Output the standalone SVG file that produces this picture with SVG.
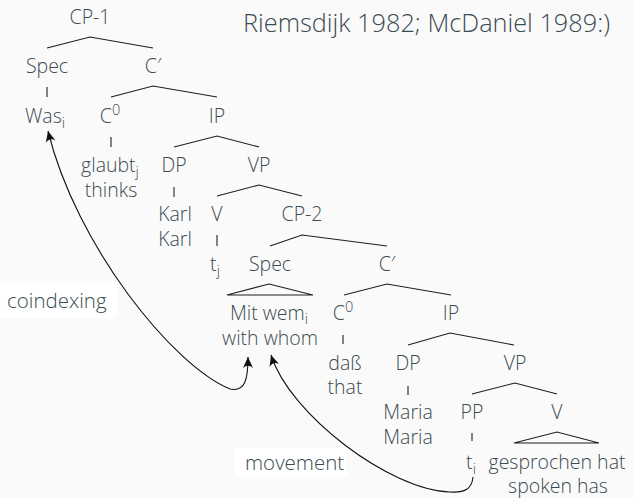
<svg xmlns="http://www.w3.org/2000/svg" width="633" height="498" viewBox="0 0 633 498">
  <style>
    text { font-family: "Open Sans", "Noto Sans", sans-serif; font-weight: 350; font-size: 19.5px; fill: #3a4b51; text-anchor: middle; }
    .hdr { font-size: 25.3px; text-anchor: start; }
    .lbl { text-anchor: start; font-size: 20.5px; }
    .sub { font-size: 14.5px; }
    .tree { fill: none; stroke: #1e1e1e; stroke-width: 1.1; }
    .arc { fill: none; stroke: #111; stroke-width: 1.1; }
    .box { fill: #ffffff; }
  </style>
  <defs>
    <marker id="stealth" viewBox="-12 -6 13 12" refX="0" refY="0" markerWidth="13" markerHeight="12" markerUnits="userSpaceOnUse" orient="auto-start-reverse">
      <path d="M0,0 L-11,-5 Q-6.5,0 -11,5 Z" fill="#111"/>
    </marker>
  </defs>

  <rect x="0" y="0" width="633" height="498" fill="#fafafa"/>

  <text class="hdr" x="243" y="32">Riemsdijk 1982; McDaniel 1989:)</text>

  <g id="label-coindexing">
    <rect class="box" x="0" y="283" width="117" height="35"/>
    <text class="lbl" x="7" y="308">coindexing</text>
  </g>
  <g id="label-movement">
    <rect class="box" x="235" y="448" width="112" height="29"/>
    <text class="lbl" x="245" y="470">movement</text>
  </g>

  <!-- tree branches -->
  <g id="connectors">
    <polyline class="tree" points="47,48 90,37 153,48"/>
    <line class="tree" x1="47" y1="87" x2="47" y2="97"/>
    <polyline class="tree" points="111,97 153,86 217,97"/>
    <line class="tree" x1="111" y1="137" x2="111" y2="147"/>
    <polyline class="tree" points="174,147 217,136 259,147"/>
    <line class="tree" x1="174" y1="187" x2="174" y2="197"/>
    <polyline class="tree" points="217,196 259,185 302,196"/>
    <line class="tree" x1="217" y1="235" x2="217" y2="246"/>
    <polyline class="tree" points="270,246 302,235 387,246"/>
    <polygon class="tree" points="227,295 269,284 313,295"/>
    <polyline class="tree" points="344,295 387,284 451,295"/>
    <line class="tree" x1="343" y1="335" x2="343" y2="344"/>
    <polyline class="tree" points="408,345 450,333 514,345"/>
    <line class="tree" x1="408" y1="386" x2="408" y2="395"/>
    <polyline class="tree" points="472,394 515,383 557,394"/>
    <line class="tree" x1="472" y1="433" x2="472" y2="441"/>
    <polygon class="tree" points="514,443 557,432 599,443"/>

    <!-- coindexing and movement arcs -->
    <path class="arc" d="M48,131 C76,245 172,365 230,389 C245,392 248,380 248,357" marker-start="url(#stealth)" marker-end="url(#stealth)"/>
    <path class="arc" d="M473,477 C472,488 466,493 450,492 C390,490 290,415 271,355" marker-end="url(#stealth)"/>
  </g>

  <g id="n-cp1"><text x="90" y="24">CP-1</text></g>
  <g id="n-spec1"><text x="47" y="73">Spec</text></g>
  <g id="n-cbar1"><text x="153" y="73">C′</text></g>
  <g id="n-was"><text x="45" y="123">Was<tspan class="sub" dy="5">i</tspan></text></g>
  <g id="n-c0a"><text x="110" y="123">C<tspan class="sub" dy="-8">0</tspan></text></g>
  <g id="n-ip1"><text x="217" y="123">IP</text></g>
  <g id="n-glaubt">
    <text x="110" y="172">glaubt<tspan class="sub" dy="5">j</tspan></text>
    <text x="111" y="197">thinks</text>
  </g>
  <g id="n-dp1"><text x="174" y="172">DP</text></g>
  <g id="n-vp1"><text x="259" y="172">VP</text></g>
  <g id="n-karl">
    <text x="175" y="221">Karl</text>
    <text x="175" y="246">Karl</text>
  </g>
  <g id="n-v1"><text x="217" y="221">V</text></g>
  <g id="n-cp2"><text x="302" y="221">CP-2</text></g>
  <g id="n-tj"><text x="215" y="271">t<tspan class="sub" dy="5">j</tspan></text></g>
  <g id="n-spec2"><text x="270" y="271">Spec</text></g>
  <g id="n-cbar2"><text x="387" y="271">C′</text></g>
  <g id="n-mitwem">
    <text x="269" y="320">Mit wem<tspan class="sub" dy="4">i</tspan></text>
    <text x="270" y="345">with whom</text>
  </g>
  <g id="n-c0b"><text x="343" y="320">C<tspan class="sub" dy="-8">0</tspan></text></g>
  <g id="n-ip2"><text x="451" y="320">IP</text></g>
  <g id="n-dass">
    <text x="345" y="370">daß</text>
    <text x="345" y="394">that</text>
  </g>
  <g id="n-dp2"><text x="408" y="370">DP</text></g>
  <g id="n-vp2"><text x="515" y="370">VP</text></g>
  <g id="n-maria">
    <text x="408" y="419">Maria</text>
    <text x="408" y="444">Maria</text>
  </g>
  <g id="n-pp"><text x="472" y="419">PP</text></g>
  <g id="n-v2"><text x="557" y="419">V</text></g>
  <g id="n-ti"><text x="471" y="469">t<tspan class="sub" dy="5">i</tspan></text></g>
  <g id="n-gesprochen">
    <text x="557" y="469">gesprochen hat</text>
    <text x="558" y="493">spoken has</text>
  </g>
</svg>
